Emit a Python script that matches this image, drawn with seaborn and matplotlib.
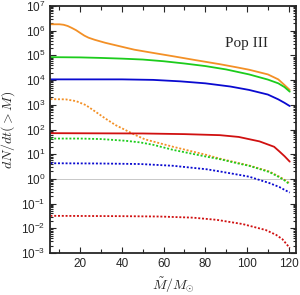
import numpy as np
import pandas as pd
import matplotlib
matplotlib.use("Agg")
import matplotlib.pyplot as plt
import matplotlib.ticker as mticker
import seaborn as sns

# Rates (Pop III), one pair of arrays per curve
m_orange_solid = [5.7, 10, 12, 14, 16, 18, 20, 22, 24, 27, 32, 37, 42, 46, 55, 65, 75, 87, 95, 101, 110, 115,
                  118, 120.5]
r_orange_solid = [1.82e6, 1.82e6, 1.74e6, 1.55e6, 1.29e6, 1.05e6, 8.1e5, 6.3e5, 5.2e5, 4.27e5, 3.24e5, 2.57e5,
                  2.04e5, 1.70e5, 1.26e5, 9.1e4, 6.5e4, 4.4e4, 3.3e4, 2.63e4, 1.70e4, 1.07e4, 6.3e3, 4.0e3]

m_green_solid = [5.7, 20, 30, 40, 50, 60, 70, 80, 90, 101, 110, 115, 118, 120.5]
r_green_solid = [8.5e4, 8.3e4, 7.9e4, 7.4e4, 6.8e4, 5.8e4, 4.7e4, 3.7e4, 2.7e4, 1.7e4, 1.05e4, 7.4e3, 5.2e3, 3.4e3]

m_blue_solid = [5.7, 40, 55, 68, 80, 92, 101, 110, 115, 118, 120.5]
r_blue_solid = [1.07e4, 1.07e4, 1.02e4, 8.9e3, 7.4e3, 5.5e3, 4.0e3, 2.6e3, 1.66e3, 1.2e3, 8.9e2]

m_red_solid = [5.7, 50, 70, 87, 96, 106, 113, 115.5, 118, 120.5]
r_red_solid = [71, 69, 65, 59, 50, 33, 20, 13, 8.3, 5.0]

m_orange_dot = [5.7, 13, 18, 22.6, 27.4, 32, 37, 41.7, 46.4, 51, 64.5, 80.7, 87, 96.4, 101, 110.7, 115.5, 118, 120.5]
r_orange_dot = [1.7e3, 1.66e3, 1.41e3, 9.8e2, 5.2e2, 2.8e2, 1.5e2, 95, 60, 40, 20, 9.3, 6.6, 4.3, 3.5, 2.0,
                1.23, 0.93, 0.66]

m_green_dot = [5.7, 20, 30, 41.7, 48.8, 55, 64.5, 80.7, 87, 96.4, 101, 110.7, 115.5, 118, 120.5]
r_green_dot = [43, 43, 41, 35, 30, 24, 15, 7.9, 6.3, 4.1, 3.4, 1.9, 1.17, 0.87, 0.60]

m_blue_dot = [5.7, 30, 48.8, 64.5, 80.7, 87, 96.4, 101, 110.7, 115.5, 118, 120.5]
r_blue_dot = [4.3, 4.2, 4.0, 3.4, 2.45, 2.0, 1.45, 1.23, 0.68, 0.47, 0.36, 0.28]

m_red_dot = [5.7, 40, 58, 74, 85.5, 98, 109, 114, 117, 120.5]
r_red_dot = [0.032, 0.031, 0.030, 0.027, 0.022, 0.0148, 0.0085, 0.0054, 0.0036, 0.0016]

curves = [
    ("orange", "total", m_orange_solid, r_orange_solid),
    ("green", "total", m_green_solid, r_green_solid),
    ("blue", "total", m_blue_solid, r_blue_solid),
    ("red", "total", m_red_solid, r_red_solid),
    ("orange", "detected", m_orange_dot, r_orange_dot),
    ("green", "detected", m_green_dot, r_green_dot),
    ("blue", "detected", m_blue_dot, r_blue_dot),
    ("red", "detected", m_red_dot, r_red_dot),
]

rows = []
for model, kind, ms, rs in curves:
    for m, r in zip(ms, rs):
        rows.append({"M": m, "rate": r, "model": model, "kind": kind})
df = pd.DataFrame(rows)

sns.set_style("ticks")
plt.rcParams["font.family"] = ["Liberation Sans", "DejaVu Sans"]
plt.rcParams["mathtext.fontset"] = "cm"

palette = {"orange": "#f39026", "green": "#1ccc1c", "blue": "#0a0ad0", "red": "#d01010"}

fig = plt.figure(figsize=(3.0, 2.95), dpi=100)
ax = fig.add_axes([50 / 300, 1 - 253 / 295, 246 / 300, 247 / 295])

ax.axhline(1.0, color="#c8c8c8", lw=0.7, zorder=0)

sns.lineplot(data=df, x="M", y="rate", hue="model", style="kind", palette=palette,
             dashes={"total": "", "detected": (1.1, 1.0)}, estimator=None, sort=False,
             linewidth=1.3, legend=False, ax=ax)

ax.set_yscale("log")
ax.set_xlim(5.5, 123.5)
ax.set_ylim(1e-3, 1e7)
ax.yaxis.set_major_locator(mticker.LogLocator(base=10, numticks=20))
ax.yaxis.set_minor_locator(mticker.LogLocator(base=10, subs=np.arange(2, 10), numticks=20))
ax.yaxis.set_minor_formatter(mticker.NullFormatter())
ax.xaxis.set_major_locator(mticker.MultipleLocator(20))
ax.xaxis.set_minor_locator(mticker.MultipleLocator(10))

ax.tick_params(which="both", direction="in", top=True, right=True, labelsize=8.5, width=0.8)
ax.tick_params(which="major", length=4)
ax.tick_params(which="minor", length=2.5)
ax.tick_params(axis="x", which="minor", length=3)
for s in ax.spines.values():
    s.set_linewidth(1.3)

ax.set_xlabel(r"$\tilde{M}/M_{\odot}$", fontsize=10, labelpad=4)
ax.set_ylabel(r"$dN/dt(>\tilde{M})$", fontsize=10, labelpad=2)
ax.text(0.80, 0.85, "Pop III", transform=ax.transAxes, ha="center", va="center",
        fontsize=11, family="Liberation Serif")

fig.savefig("out.png", dpi=100)
